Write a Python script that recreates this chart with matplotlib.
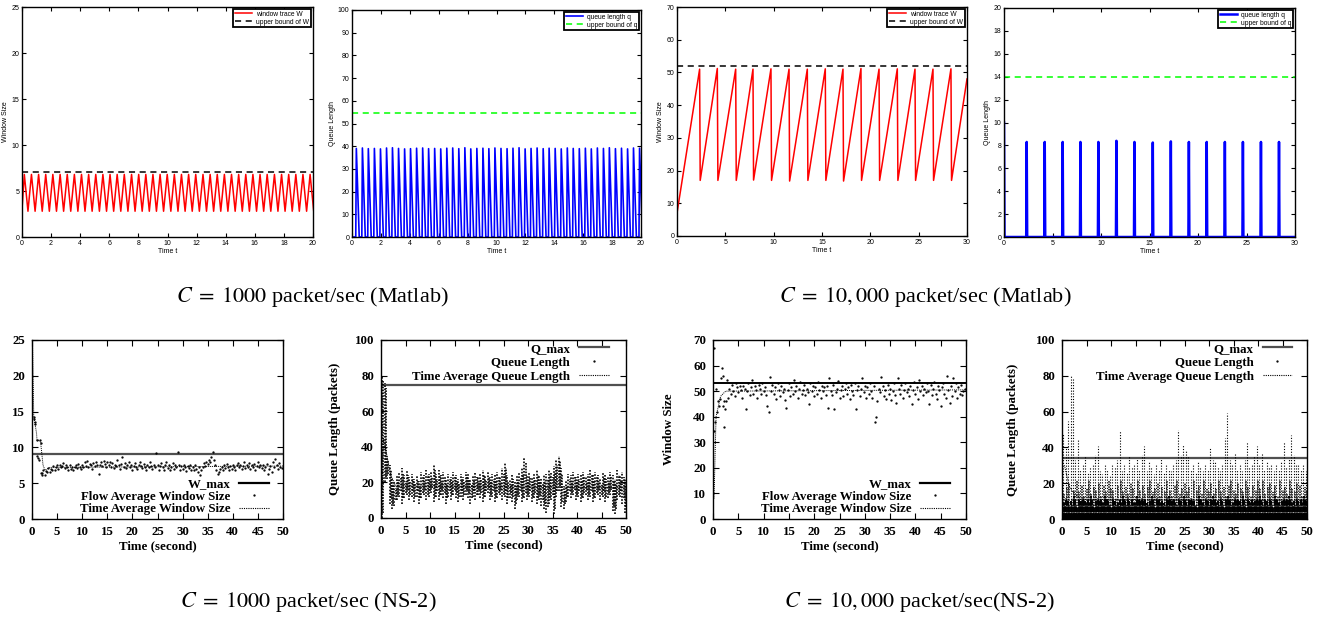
import numpy as np
import matplotlib
matplotlib.use('Agg')
import matplotlib.pyplot as plt
from matplotlib.lines import Line2D

plt.rcParams['mathtext.fontset'] = 'stix'
plt.rcParams['font.family'] = 'Liberation Serif'

# ---------------- data: top row (Matlab fluid model) ----------------
# C = 1000, window trace
W1_peak_t = [0.16, 0.65, 1.14, 1.63, 2.12, 2.62, 3.11, 3.60, 4.09, 4.58, 5.07, 5.56, 6.05, 6.54,
             7.03, 7.53, 8.02, 8.51, 9.00, 9.49, 9.98, 10.47, 10.96, 11.45, 11.94, 12.44, 12.93,
             13.42, 13.91, 14.40, 14.89, 15.38, 15.87, 16.36, 16.85, 17.35, 17.84, 18.33, 18.82,
             19.31, 19.80]
W1_trough_t = [0.41, 0.90, 1.39, 1.88, 2.37, 2.86, 3.35, 3.84, 4.33, 4.82, 5.32, 5.81, 6.30, 6.79,
               7.28, 7.77, 8.26, 8.75, 9.24, 9.73, 10.23, 10.72, 11.21, 11.70, 12.19, 12.68, 13.17,
               13.66, 14.15, 14.65, 15.14, 15.63, 16.12, 16.61, 17.10, 17.59, 18.08, 18.57, 19.06,
               19.56, 20.05]
W1_start = 3.0
W1_peak = 6.8
W1_trough = 2.8
W1_bound = 7.1

# C = 1000, queue trace
Q1_rise_t = [0.26, 0.68, 1.09, 1.51, 1.93, 2.35, 2.76, 3.18, 3.60, 4.01, 4.43, 4.85, 5.26, 5.68,
             6.10, 6.52, 6.93, 7.35, 7.77, 8.18, 8.60, 9.02, 9.43, 9.85, 10.27, 10.69, 11.10, 11.52,
             11.94, 12.35, 12.77, 13.19, 13.60, 14.02, 14.44, 14.86, 15.27, 15.69, 16.11, 16.52,
             16.94, 17.36, 17.77, 18.19, 18.61, 19.03, 19.44, 19.86]
Q1_peak = [39.0, 39.2, 38.9, 39.0, 38.8, 39.2, 39.3, 39.0, 38.8, 38.9, 39.1, 39.2, 38.9, 39.0,
           38.8, 39.1, 39.2, 38.9, 39.3, 38.8, 39.0, 39.1, 38.9, 39.2, 39.0, 38.9, 39.1, 39.3,
           38.8, 39.0, 39.2, 38.9, 39.1, 39.0, 38.8, 39.2, 39.0, 38.9, 39.1, 38.8, 39.2, 39.0,
           39.3, 38.9, 39.1, 38.8, 39.2, 39.1]
Q1_rise_dur = 0.04
Q1_fall_dur = 0.20
Q1_bound = 54.5

# C = 10000, window trace
W2_peak_t = [2.34, 4.17, 6.07, 7.86, 9.72, 11.59, 13.48, 15.34, 17.17, 19.03, 20.90, 22.79,
             24.62, 26.48, 28.34]
W2_peak = [51.0, 51.2, 51.0, 51.0, 51.1, 51.0, 51.0, 51.1, 51.0, 51.2, 51.0, 51.1, 51.0, 51.0, 51.1]
W2_trough = [17.0, 17.0, 17.0, 17.1, 17.0, 16.8, 17.0, 17.0, 16.8, 17.0, 17.0, 17.0, 17.0, 17.0, 17.0]
W2_start = 7.0
W2_end = 48.0
W2_drop_dur = 0.06
W2_bound = 52.0

# C = 10000, queue trace
Q2_spike_t = [2.34, 4.20, 6.05, 7.88, 9.73, 11.59, 13.45, 15.34, 17.20, 19.06, 20.90, 22.77,
              24.63, 26.49, 28.35]
Q2_peak = [8.3, 8.3, 8.3, 8.3, 8.3, 8.4, 8.3, 8.25, 8.35, 8.3, 8.3, 8.3, 8.3, 8.3, 8.3]
Q2_start = 10.0
Q2_half_width = 0.05
Q2_bound = 14.0

# ---------------- data: bottom row (NS-2) ----------------
# C = 1000 flow-average window (early samples + regular 0.25 s samples from t = 2)
F1_early_t = [0.35, 0.45, 0.55, 0.65, 0.95, 1.05, 1.15, 1.3, 1.55, 1.7, 1.85, 1.95]
F1_early_v = [14.2, 14.0, 13.6, 13.3, 11.0, 8.8, 8.5, 8.3, 11.0, 10.6, 6.4, 6.1]
F1_t0, F1_dt = 2.0, 0.25
F1_v = [6.4, 6.9, 6.2, 6.7, 6.5, 7.1, 6.6, 7.0, 6.8, 7.4, 6.9, 7.3, 7.6, 7.0, 7.5, 7.2,
        7.4, 7.8, 7.1, 7.6, 7.3, 6.9, 7.5, 7.0, 7.2, 6.8, 7.3, 7.6, 7.1, 7.7, 7.3, 7.0,
        7.6, 7.2, 7.9, 7.4, 8.1, 7.3, 7.7, 7.5, 7.0, 7.8, 7.4, 8.0, 7.6, 6.3, 7.5, 7.9,
        7.4, 8.1, 7.7, 7.2, 7.9, 7.5, 8.0, 7.3, 7.8, 7.1, 7.6, 7.4, 8.2, 7.5, 7.0, 7.7,
        8.7, 7.3, 7.8, 7.1, 7.5, 7.9, 7.2, 7.6, 6.9, 7.4, 7.8, 7.3, 7.0, 7.6, 8.0, 7.4,
        7.1, 7.7, 7.3, 6.8, 7.5, 7.2, 7.9, 7.4, 7.0, 7.6, 7.2, 9.2, 7.5, 6.9, 7.4, 7.8,
        7.2, 6.8, 7.5, 7.9, 7.1, 7.6, 6.9, 7.3, 7.8, 7.0, 7.5, 7.2, 9.3, 7.6, 6.9, 7.4,
        7.0, 7.5, 7.2, 6.7, 7.4, 7.1, 7.6, 6.9, 7.3, 6.8, 7.5, 7.0, 6.6, 7.2, 6.2, 6.9,
        7.3, 7.8, 7.4, 8.0, 7.7, 8.3, 8.0, 8.6, 9.4, 8.2, 7.6, 6.9, 6.3, 6.6, 7.0, 7.3,
        6.9, 7.5, 7.1, 7.7, 7.2, 6.8, 7.4, 7.0, 7.6, 7.3, 6.9, 7.5, 7.8, 7.2, 7.6, 7.0,
        7.4, 7.9, 7.1, 7.6, 7.3, 7.8, 7.0, 7.5, 7.2, 7.7, 6.9, 7.4, 8.0, 7.3, 7.6, 7.1,
        7.5, 6.8, 7.2, 7.7, 6.3, 7.0, 7.4, 6.6, 8.0, 7.2, 8.4, 7.5, 7.0, 7.8, 7.3, 7.1]
T1_t = [0.1, 0.35, 0.6, 0.9, 1.0, 1.5, 1.7, 1.9, 2.2, 2.6, 3.5, 50.0]
T1_v = [24.4, 14.2, 13.3, 12.0, 11.0, 11.0, 10.8, 9.5, 7.5, 6.8, 7.2, 7.4]
W1max = 9.1

# C = 1000 queue length: per 0.5 s interval, lowest and highest sampled value
QN1_t0, QN1_dt = 0.25, 0.5
QN1_low = [0, 20, 22, 8, 5, 7, 10, 12, 8, 11, 13, 10, 12, 9, 12, 8, 11, 13, 10, 12,
           14, 9, 12, 10, 13, 11, 8, 12, 10, 13, 11, 9, 12, 10, 13, 11, 8, 12, 10, 13,
           11, 9, 12, 14, 10, 12, 9, 11, 13, 10, 12, 8, 11, 9, 5, 10, 12, 9, 11, 10,
           12, 9, 11, 8, 10, 7, 5, 3, 8, 10, 2, 12, 15, 6, 5, 9, 12, 11, 13, 10,
           12, 9, 11, 13, 10, 12, 9, 11, 13, 10, 12, 9, 11, 13, 4, 2, 10, 12, 8, 3]
QN1_high = [80, 76, 35, 30, 22, 20, 24, 26, 28, 24, 27, 23, 25, 22, 24, 21, 26, 24, 27, 25,
            26, 30, 25, 27, 24, 26, 22, 25, 23, 26, 24, 22, 25, 23, 26, 25, 22, 24, 26, 23,
            25, 27, 24, 26, 23, 25, 24, 26, 23, 28, 31, 24, 22, 25, 21, 24, 26, 28, 34, 24,
            26, 23, 25, 27, 24, 22, 24, 25, 27, 26, 29, 33, 35, 28, 18, 21, 25, 24, 26, 23,
            25, 24, 26, 23, 25, 27, 24, 26, 24, 22, 26, 25, 23, 26, 24, 22, 27, 24, 26, 22]
TQ1_t = [0.1, 0.5, 1.0, 2.0, 3.0, 50.0]
TQ1_v = [5, 45, 38, 24, 18, 17]
Q1max = 74.5

# C = 10000 flow-average window
F2_early_t = [0.1, 0.2, 0.4, 0.5, 0.7, 0.9, 1.1, 1.3, 1.6, 1.8, 1.9, 2.0, 2.1, 2.2, 2.3]
F2_early_v = [67, 34.5, 38, 51, 42, 46, 44, 47, 55, 59, 56, 44, 36, 46, 43]
F2_t0, F2_dt = 2.5, 0.25
F2_v = [46, 54.5, 47.5, 51, 49, 52.5, 50, 48, 53, 51.5, 49.5, 52, 50.5, 47.5, 52, 51,
        43, 50, 53, 48.5, 51.5, 54.5, 49, 52, 50.5, 47.5, 52.5, 51, 49, 53, 50, 51.5,
        48.5, 44, 42, 55.5, 50, 52.5, 49, 51.5, 47, 53, 50.5, 48, 52, 49.5, 51, 46.5,
        43.5, 50.5, 53, 48, 51.5, 49, 54.5, 50, 52, 47.5, 51, 53.5, 49, 50.5, 52.5, 48.5,
        51, 49.5, 45, 53, 50, 52, 48, 51.5, 49, 53.5, 50.5, 47.5, 52, 50, 51.5, 48.5,
        52, 43.5, 55, 50, 48.5, 52.5, 43, 49.5, 51, 54, 47.5, 50.5, 52, 48, 51, 53,
        49, 51.5, 47, 52.5, 50, 48.5, 53, 43, 50.5, 52, 48, 51, 55, 49.5, 52, 47.5,
        51.5, 49, 53, 50, 47.5, 52, 38, 40, 46, 51, 49.5, 55.5, 52, 48, 50.5, 47,
        52.5, 49, 51, 46.5, 50, 53, 48.5, 45.5, 55, 51, 49, 52.5, 47.5, 50.5, 53, 49.5,
        51, 48, 52, 45, 50.5, 53.5, 49, 51.5, 47, 54.5, 50, 52, 48.5, 51, 49.5, 53,
        50, 45, 52.5, 48.5, 51, 53.5, 49, 47, 52, 50.5, 44, 51.5, 53, 49, 47.5, 56,
        50.5, 45.5, 52, 48, 55, 50, 53, 47.5, 51.5, 49, 52.5, 48.5, 50, 51]
T2_t = [0.2, 0.6, 1.5, 2.5, 50.0]
T2_v = [8, 40, 48, 50, 50.5]
W2max = 53.0

# C = 10000 queue length: per 0.5 s interval, highest value, typical upper level, dense level
QN2_t0, QN2_dt = 0.25, 0.5
QN2_high = [48, 40, 55, 80, 78, 33, 44, 28, 30, 35, 26, 29, 31, 36, 41, 27, 25, 30, 28, 24,
            31, 29, 33, 49, 27, 30, 26, 35, 29, 31, 34, 28, 36, 41, 27, 32, 29, 25, 31, 28,
            34, 26, 30, 28, 27, 31, 33, 50, 36, 42, 38, 35, 28, 30, 26, 32, 29, 27, 31, 28,
            40, 33, 32, 29, 27, 30, 45, 59, 33, 30, 37, 28, 30, 27, 33, 43, 29, 31, 35, 41,
            30, 37, 28, 32, 29, 31, 27, 30, 28, 32, 43, 29, 34, 47, 36, 30, 31, 28, 30, 27]
QN2_mid = [14, 18, 20, 12, 16, 21, 15, 19, 13, 17, 22, 14, 18, 16, 20, 13, 19, 15, 21, 17,
           16, 12, 19, 22, 15, 18, 14, 20, 17, 13, 21, 16, 19, 14, 18, 22, 15, 17, 20, 13,
           18, 15, 21, 16, 13, 19, 22, 14, 17, 20, 15, 18, 12, 21, 16, 19, 14, 22, 17, 15,
           20, 14, 17, 21, 15, 18, 13, 19, 22, 16, 14, 20, 17, 15, 21, 18, 13, 19, 16, 22,
           17, 21, 14, 18, 20, 15, 19, 13, 22, 16, 18, 14, 21, 17, 15, 20, 19, 13, 18, 16]
QN2_dense = [9, 12, 7, 10, 13, 8, 11, 10, 12, 9, 11, 13, 8, 10, 12, 11, 9, 13, 10, 8,
             12, 10, 9, 11, 13, 10, 12, 8, 11, 9, 13, 10, 12, 11, 9, 10, 13, 8, 12, 11,
             10, 9, 12, 13, 10, 11, 8, 12, 10, 13, 9, 11, 12, 10, 8, 13, 11, 9, 12, 10,
             11, 13, 9, 10, 12, 8, 11, 13, 10, 9, 12, 11, 10, 13, 8, 12, 9, 11, 10, 12,
             13, 9, 11, 10, 12, 8, 13, 11, 9, 10, 12, 11, 13, 9, 10, 12, 8, 11, 13, 10]
QN2_floor = 3.0
TQ2_t = [0.5, 1.5, 2.0, 2.5, 4.0, 50.0]
TQ2_v = [30, 18, 16, 14, 11, 10]
Q2max = 34.0

# ---------------- figure ----------------
WPX, HPX = 1322, 618
fig = plt.figure(figsize=(13.22, 6.18), dpi=100)


def ax_px(l, r, t, b):
    return fig.add_axes([l / WPX, 1 - b / HPX, (r - l) / WPX, (b - t) / HPX])


SANS = 'Liberation Sans'
SERIF = 'Liberation Serif'


def top_style(ax, xmax, xstep, ymax, ystep, ylabel):
    ax.set_xlim(0, xmax)
    ax.set_ylim(0, ymax)
    xt = list(range(0, xmax + 1, xstep))
    yt = list(range(0, ymax + 1, ystep))
    ax.set_xticks(xt, labels=[str(v) for v in xt], fontsize=5, family=SANS)
    ax.set_yticks(yt, labels=[str(v) for v in yt], fontsize=5, family=SANS)
    ax.tick_params(direction='in', top=True, right=True, length=3, width=0.8, pad=2)
    for s in ax.spines.values():
        s.set_linewidth(1.0)
    ax.set_xlabel('Time t', fontsize=5, family=SANS, labelpad=1)
    ax.set_ylabel(ylabel, fontsize=5, family=SANS, labelpad=1.5)
    leg = ax.legend(loc='upper right', frameon=True, fancybox=False, edgecolor='k',
                    framealpha=1, borderpad=0.25, handlelength=2.6, handletextpad=0.6,
                    borderaxespad=0.3, labelspacing=0.15, prop={'family': SANS, 'size': 4.8})
    leg.get_frame().set_linewidth(1.3)


# Panel 1
ax1 = ax_px(22, 313, 7, 237)
t1 = [0.0]
v1 = [W1_start]
for tp, tt in zip(W1_peak_t, W1_trough_t):
    t1 += [tp, tt]
    v1 += [W1_peak, W1_trough]
ax1.plot(t1, v1, color='#ff0000', lw=1.1, label='window trace W')
ax1.axhline(W1_bound, color='k', lw=1.1, dashes=(4, 3), label='upper bound of W')
top_style(ax1, 20, 2, 25, 5, 'Window Size')

# Panel 2
ax2 = ax_px(352, 641, 10, 237)
t2 = [0.0]
v2 = [0.0]
for tr, pk in zip(Q1_rise_t, Q1_peak):
    t2 += [tr, tr + Q1_rise_dur, tr + Q1_rise_dur + Q1_fall_dur]
    v2 += [0.0, pk, 0.0]
ax2.plot(t2, v2, color='#0000ff', lw=1.2, label='queue length q')
ax2.axhline(Q1_bound, color='#00ff00', lw=1.1, dashes=(4, 3), label='upper bound of q')
top_style(ax2, 20, 2, 100, 10, 'Queue Length')

# Panel 3
ax3 = ax_px(677, 967, 7, 236)
t3 = [0.0]
v3 = [W2_start]
for tp, pk, tr in zip(W2_peak_t, W2_peak, W2_trough):
    t3 += [tp, tp + W2_drop_dur]
    v3 += [pk, tr]
t3.append(30.0)
v3.append(W2_end)
ax3.plot(t3, v3, color='#ff0000', lw=1.1, label='window trace W')
ax3.axhline(W2_bound, color='k', lw=1.1, dashes=(4, 3), label='upper bound of W')
top_style(ax3, 30, 5, 70, 10, 'Window Size')

# Panel 4
ax4 = ax_px(1004, 1295, 8, 237)
t4 = [0.0, Q2_half_width]
v4 = [Q2_start, 0.0]
for ts, pk in zip(Q2_spike_t, Q2_peak):
    t4 += [ts - Q2_half_width, ts, ts + Q2_half_width]
    v4 += [0.0, pk, 0.0]
t4.append(30.0)
v4.append(0.0)
ax4.plot(t4, v4, color='#0000ff', lw=1.8, label='queue length q')
ax4.axhline(Q2_bound, color='#00ff00', lw=1.1, dashes=(4, 3), label='upper bound of q')
top_style(ax4, 30, 5, 20, 2, 'Queue Length')


# ---------------- bottom row ----------------
FS = 9.3
DOT = 1.3


def bottom_style(ax, ymax, ystep, ylabel, ylpad=8):
    ax.set_xlim(0, 50)
    ax.set_ylim(0, ymax)
    xt = list(range(0, 51, 5))
    yt = list(range(0, ymax + 1, ystep))
    ax.set_xticks(xt, labels=[str(v) for v in xt], fontsize=FS, fontweight='bold', family=SERIF)
    ax.set_yticks(yt, labels=[str(v) for v in yt], fontsize=FS, fontweight='bold', family=SERIF)
    ax.tick_params(direction='in', top=True, right=True, length=4, width=0.8, pad=5)
    for s in ax.spines.values():
        s.set_linewidth(1.0)
    ax.set_xlabel('Time (second)', fontsize=FS, fontweight='bold', family=SERIF, labelpad=2)
    if ylabel:
        ax.set_ylabel(ylabel, fontsize=FS, fontweight='bold', family=SERIF, labelpad=ylpad)


def bottom_legend(ax, labels, maxcolor, loc, anchor, spacing):
    handles = [Line2D([], [], color=maxcolor, lw=1.6),
               Line2D([], [], ls='none', marker='.', ms=DOT, color='k'),
               Line2D([], [], color='k', lw=0.8, ls=(0, (1, 1)))]
    ax.legend(handles, labels, loc=loc, bbox_to_anchor=anchor, frameon=False,
              markerfirst=False, handlelength=2.3, handletextpad=0.7, labelspacing=spacing,
              borderpad=0, borderaxespad=0,
              prop={'family': SERIF, 'weight': 'bold', 'size': FS})


# Panel 5
ax5 = ax_px(32, 283, 340, 519)
tf1 = np.arange(len(F1_v)) * F1_dt + F1_t0
ax5.axhline(W1max, color='#505050', lw=1.6)
ax5.plot(T1_t, T1_v, color='k', lw=0.7, ls=(0, (1, 1)))
ax5.plot(F1_early_t, F1_early_v, ls='none', marker='.', ms=DOT, color='k')
ax5.plot(tf1, F1_v, ls='none', marker='.', ms=DOT, color='k')
bottom_style(ax5, 25, 5, None)
bottom_legend(ax5, ['W_max', 'Flow Average Window Size', 'Time Average Window Size'],
              'k', 'lower right', (0.945, 0.02), 0.05)

# Panel 6
ax6 = ax_px(381, 626, 340, 518)
tq1 = np.arange(len(QN1_high)) * QN1_dt + QN1_t0
ax6.axhline(Q1max, color='#505050', lw=1.6)
ax6.vlines(tq1, QN1_low, QN1_high, colors='k', lw=1.2, linestyles=[(0, (1, 0.9))])
ax6.vlines(tq1 + QN1_dt / 2, np.array(QN1_low) + 3, np.array(QN1_high) - 3, colors='k', lw=1.2,
           linestyles=[(0, (1, 0.7))])
ax6.plot(TQ1_t, TQ1_v, color='k', lw=0.7, ls=(0, (1, 1)))
bottom_style(ax6, 100, 20, 'Queue Length (packets)', ylpad=10)
bottom_legend(ax6, ['Q_max', 'Queue Length', 'Time Average Queue Length'],
              '#505050', 'upper right', (0.93, 0.985), 0.16)

# Panel 7
ax7 = ax_px(713, 966, 340, 519)
tf2 = np.arange(len(F2_v)) * F2_dt + F2_t0
ax7.axhline(W2max, color='k', lw=1.4)
ax7.plot(T2_t, T2_v, color='k', lw=0.7, ls=(0, (1, 1)))
ax7.plot(F2_early_t, F2_early_v, ls='none', marker='.', ms=DOT, color='k')
ax7.plot(tf2, F2_v, ls='none', marker='.', ms=DOT, color='k')
bottom_style(ax7, 70, 10, 'Window Size', ylpad=13)
bottom_legend(ax7, ['W_max', 'Flow Average Window Size', 'Time Average Window Size'],
              'k', 'lower right', (0.937, 0.02), 0.05)

# Panel 8
ax8 = ax_px(1062, 1307, 340, 519)
tq2 = np.arange(len(QN2_high)) * QN2_dt + QN2_t0
ax8.axhline(Q2max, color='#505050', lw=1.6)
ax8.vlines(tq2, 0, QN2_high, colors='k', lw=0.8, linestyles=[(0, (1, 1.5))])
ax8.vlines(tq2 + QN2_dt / 2, 0, QN2_mid, colors='k', lw=1.1, linestyles=[(0, (1, 0.7))])
ax8.vlines(tq2 + QN2_dt / 4, 0, QN2_dense, colors='k', lw=1.4, linestyles=[(0, (3, 0.5))])
ax8.vlines(tq2 + 3 * QN2_dt / 4, 0, np.array(QN2_dense) - 2, colors='k', lw=1.4,
           linestyles=[(0, (3, 0.5))])
ax8.axhspan(0, QN2_floor, color='k', lw=0)
ax8.plot(TQ2_t, TQ2_v, color='k', lw=0.7, ls=(0, (1, 1)))
bottom_style(ax8, 100, 20, 'Queue Length (packets)', ylpad=12)
bottom_legend(ax8, ['Q_max', 'Queue Length', 'Time Average Queue Length'],
              '#505050', 'upper right', (0.94, 0.985), 0.16)

# ---------------- captions ----------------
CAP = 16
fig.text(312 / WPX, 1 - 297 / HPX, r'$C\;=\;1000$ packet/sec (Matlab)', fontsize=CAP,
         ha='center', va='center', family=SERIF)
fig.text(925 / WPX, 1 - 297 / HPX, r'$C\;=\;10,000$ packet/sec (Matlab)', fontsize=CAP,
         ha='center', va='center', family=SERIF)
fig.text(308 / WPX, 1 - 602 / HPX, r'$C\;=\;1000$ packet/sec (NS-2)', fontsize=CAP,
         ha='center', va='center', family=SERIF)
fig.text(919 / WPX, 1 - 602 / HPX, r'$C\;=\;10,000$ packet/sec(NS-2)', fontsize=CAP,
         ha='center', va='center', family=SERIF)

fig.savefig('out.png', dpi=100)
